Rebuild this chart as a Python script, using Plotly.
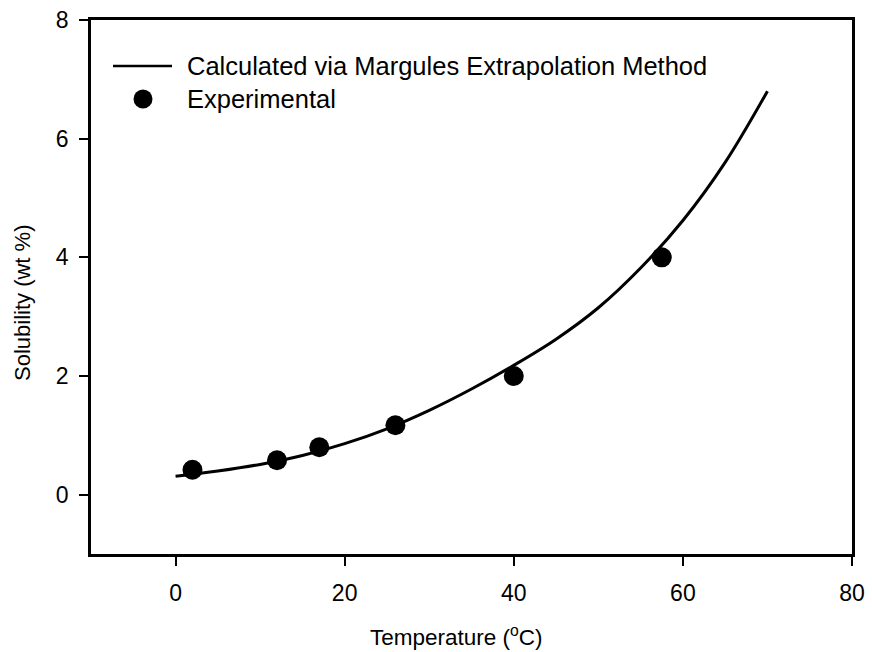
import plotly.graph_objects as go

# Margules extrapolation curve (temperature in °C, solubility in wt %)
calc_temp = [0, 5, 10, 15, 20, 25, 30, 35, 40, 45, 50, 55, 60, 65, 70]
calc_sol = [0.31, 0.40, 0.51, 0.66, 0.86, 1.11, 1.42, 1.78, 2.18, 2.62, 3.15, 3.82, 4.62, 5.60, 6.80]

# Measured solubilities
exp_temp = [2, 12, 17, 26, 40, 57.5]
exp_sol = [0.42, 0.58, 0.80, 1.17, 2.00, 4.00]

x_ticks = [0, 20, 40, 60, 80]
y_ticks = [0, 2, 4, 6, 8]

legend_labels = ["Calculated via Margules Extrapolation Method", "Experimental"]
x_title = "Temperature (<sup>o</sup>C)"
y_title = "Solubility (wt %)"

FONT = "Liberation Sans, Arial, sans-serif"

fig = go.Figure()
fig.add_trace(go.Scatter(
    x=calc_temp, y=calc_sol, mode="lines",
    line=dict(color="black", width=3, shape="spline", smoothing=1.0),
    showlegend=False,
))
fig.add_trace(go.Scatter(
    x=exp_temp, y=exp_sol, mode="markers",
    marker=dict(color="black", size=20),
    showlegend=False,
))

# Plot-area pixel helpers for the hand-built legend and axis titles
L, T, R, B = 91, 20, 852, 554
W, H = R - L, B - T
def px(xp):
    return (xp - L) / W
def py(yp):
    return (B - yp) / H

fig.add_shape(type="line", xref="paper", yref="paper",
              x0=px(113), x1=px(172), y0=py(66), y1=py(66),
              line=dict(color="black", width=2.5))
r = 9.5
fig.add_shape(type="circle", xref="paper", yref="paper",
              x0=px(143 - r), x1=px(143 + r), y0=py(99 + r), y1=py(99 - r),
              fillcolor="black", line=dict(color="black", width=0))
for label, yc in zip(legend_labels, [65.5, 99]):
    fig.add_annotation(text=label, xref="paper", yref="paper",
                       x=px(185), y=py(yc), xanchor="left", yanchor="middle",
                       showarrow=False, font=dict(family=FONT, size=25.5, color="black"))

fig.add_annotation(text=x_title, xref="paper", yref="paper",
                   x=px(456), y=py(636), xanchor="center", yanchor="middle",
                   showarrow=False, font=dict(family=FONT, size=22.5, color="black"))
fig.add_annotation(text=y_title, xref="paper", yref="paper", textangle=-90,
                   x=px(22), y=py(303), xanchor="center", yanchor="middle",
                   showarrow=False, font=dict(family=FONT, size=22, color="black"))

axis_common = dict(
    showgrid=False, zeroline=False, showline=True, linecolor="black", linewidth=2.5,
    mirror=True, ticks="outside", ticklen=9, tickwidth=1.5, tickcolor="black",
    tickfont=dict(family=FONT, size=23, color="black"), automargin=False,
)
fig.update_xaxes(range=[-10, 80], tickvals=x_ticks, ticktext=[str(v) for v in x_ticks],
                 ticklabelstandoff=8, **axis_common)
fig.update_yaxes(range=[-1, 8], tickvals=y_ticks, ticktext=[str(v) for v in y_ticks],
                 ticklabelstandoff=6, **axis_common)

fig.update_layout(
    width=872, height=652,
    margin=dict(l=L, r=872 - R, t=T, b=652 - B, autoexpand=False),
    plot_bgcolor="white", paper_bgcolor="white",
    showlegend=False,
)

fig.write_html("out.html")
